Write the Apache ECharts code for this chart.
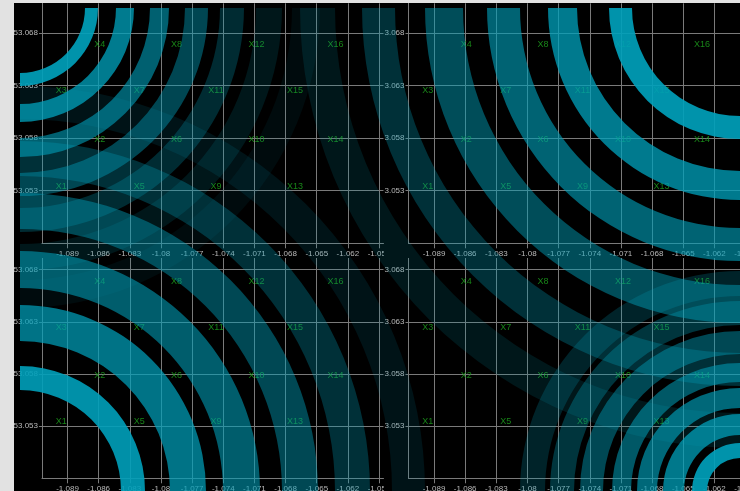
<!DOCTYPE html>
<html>
<head>
<meta charset="utf-8">
<script src="https://cdn.jsdelivr.net/npm/echarts@6/dist/echarts.min.js"></script>
<style>
  html, body { margin: 0; padding: 0; background: #e2e2e2; width: 740px; height: 491px; overflow: hidden; }
  #stage { position: absolute; left: 14px; top: 3px; width: 726px; height: 488px; background: #000; overflow: hidden; }
  .panel { position: absolute; overflow: hidden; }
  #rings { position: absolute; left: 0; top: 0; width: 726px; height: 488px; pointer-events: none; }
</style>
</head>
<body>
<div id="stage">
  <div id="pSW" class="panel"></div>
  <div id="pSE" class="panel"></div>
  <div id="pNW" class="panel"></div>
  <div id="pNE" class="panel"></div>
  <div id="rings"></div>
</div>
<script>
// Station grid: names and coordinates
const pointNames = ['X1','X2','X3','X4','X5','X6','X7','X8','X9','X10','X11','X12','X13','X14','X15','X16'];
const pointLon = [-1.0896,-1.0859,-1.0896,-1.0859, -1.0821,-1.0785,-1.0821,-1.0785,
                  -1.0747,-1.0708,-1.0747,-1.0708, -1.0671,-1.0632,-1.0671,-1.0632];
const pointLat = [53.0534,53.0579,53.0625,53.0669, 53.0534,53.0579,53.0625,53.0669,
                  53.0534,53.0579,53.0625,53.0669, 53.0534,53.0579,53.0625,53.0669];

// Axis tick labels
const lonTicks = [-1.089,-1.086,-1.083,-1.08,-1.077,-1.074,-1.071,-1.068,-1.065,-1.062,-1.059];
const latTicks = [53.053,53.058,53.063,53.068];

// Wave fronts spreading from each corner: inner / outer radius and intensity
const nwInner = [65, 96, 130, 165, 200, 236, 272];
const nwOuter = [78, 114, 149, 188, 224, 262, 300];
const nwLevel = [0.92, 0.77, 0.6, 0.44, 0.27, 0.14, 0.07];

const neInner = [108, 163, 220, 277, 345, 405];
const neOuter = [131, 192, 253, 315, 378, 440];
const neLevel = [0.92, 0.76, 0.62, 0.48, 0.3, 0.14];

const swInner = [101, 150, 203, 262, 315, 372];
const swOuter = [125, 186, 240, 298, 350, 405];
const swLevel = [0.9, 0.72, 0.58, 0.45, 0.3, 0.12];

const seInner = [33, 56, 83, 109, 137, 166, 195];
const seOuter = [48, 77, 103, 128, 160, 190, 220];
const seLevel = [0.92, 0.75, 0.65, 0.55, 0.45, 0.33, 0.22];

const LINE = '#7a7a7a';
const LABEL = '#b8b8b8';
const FONT = 'Liberation Sans, Arial, sans-serif';

function panelOption(grid) {
  return {
    backgroundColor: '#000',
    animation: false,
    grid: Object.assign({ outerBoundsMode: 'none', containLabel: false }, grid),
    xAxis: {
      type: 'value', min: -1.09146, max: -1.05857,
      axisLine: { show: true, onZero: false, lineStyle: { color: LINE } },
      axisTick: { show: true, length: 5, lineStyle: { color: LINE }, customValues: lonTicks },
      axisLabel: { color: LABEL, fontSize: 8, fontFamily: FONT, margin: 6, customValues: lonTicks },
      splitLine: { show: true, lineStyle: { color: LINE, width: 1 } }
    },
    yAxis: {
      type: 'value', min: 53.048, max: 53.0708,
      axisLine: { show: true, onZero: false, lineStyle: { color: LINE } },
      axisTick: { show: true, length: 3, lineStyle: { color: LINE }, customValues: latTicks },
      axisLabel: { color: LABEL, fontSize: 8, fontFamily: FONT, margin: 4, customValues: latTicks },
      splitLine: { show: true, lineStyle: { color: LINE, width: 1 } }
    },
    series: [{
      type: 'scatter',
      symbolSize: 1,
      itemStyle: { color: 'rgba(0,0,0,0)' },
      label: {
        show: true, position: 'inside', formatter: p => p.data[2],
        color: '#1ea51e', fontSize: 9, fontFamily: FONT
      },
      data: pointNames.map((n, i) => [pointLon[i], pointLat[i], n])
    }]
  };
}

// Four identical panels, laid out in a 2 x 2 arrangement
const panels = [
  { id: 'pSW', box: [0, 235, 369.5, 253], grid: { left: 28, width: 341.5, top: 2.5, height: 237.8 } },
  { id: 'pSE', box: [369.5, 235, 380, 253], grid: { left: 24.5, width: 341.5, top: 2.5, height: 237.8 } },
  { id: 'pNW', box: [0, 0, 369.5, 255], grid: { left: 28, width: 341.5, top: 0.3, height: 240 } },
  { id: 'pNE', box: [369.5, 0, 380, 255], grid: { left: 24.5, width: 341.5, top: 0.3, height: 240 } }
];
panels.forEach(p => {
  const el = document.getElementById(p.id);
  el.style.left = p.box[0] + 'px';
  el.style.top = p.box[1] + 'px';
  el.style.width = p.box[2] + 'px';
  el.style.height = p.box[3] + 'px';
  echarts.init(el, null, { renderer: 'canvas' }).setOption(panelOption(p.grid));
});

// Wave-front overlay: one polar system per corner, rings as stacked radial bars
const RMAX = 900;
const corners = [
  { center: [6, 5], start: 0, inner: nwInner, outer: nwOuter, level: nwLevel },
  { center: [726, 5], start: 270, inner: neInner, outer: neOuter, level: neLevel },
  { center: [6, 488], start: 90, inner: swInner, outer: swOuter, level: swLevel },
  { center: [726, 488], start: 180, inner: seInner, outer: seOuter, level: seLevel }
];
const polar = [], angleAxis = [], radiusAxis = [], ringSeries = [];
corners.forEach((c, i) => {
  polar.push({ center: c.center, radius: RMAX });
  angleAxis.push({ polarIndex: i, type: 'category', data: ['a', 'b', 'c', 'd'], startAngle: c.start,
    clockwise: true, show: false, boundaryGap: true });
  radiusAxis.push({ polarIndex: i, type: 'value', min: 0, max: RMAX, show: false });
  let prev = 0;
  c.inner.forEach((r0, j) => {
    const r1 = c.outer[j];
    ringSeries.push({
      type: 'bar', coordinateSystem: 'polar', polarIndex: i, stack: 'w' + i, silent: true,
      barWidth: '100%', itemStyle: { color: 'rgba(0,0,0,0)' }, data: [r0 - prev]
    });
    ringSeries.push({
      type: 'bar', coordinateSystem: 'polar', polarIndex: i, stack: 'w' + i, silent: true,
      barWidth: '100%', itemStyle: { color: 'rgba(0,160,186,' + c.level[j] + ')' }, data: [r1 - r0]
    });
    prev = r1;
  });
});
echarts.init(document.getElementById('rings'), null, { renderer: 'canvas' }).setOption({
  animation: false,
  polar: polar, angleAxis: angleAxis, radiusAxis: radiusAxis,
  series: ringSeries
});
</script>
</body>
</html>
